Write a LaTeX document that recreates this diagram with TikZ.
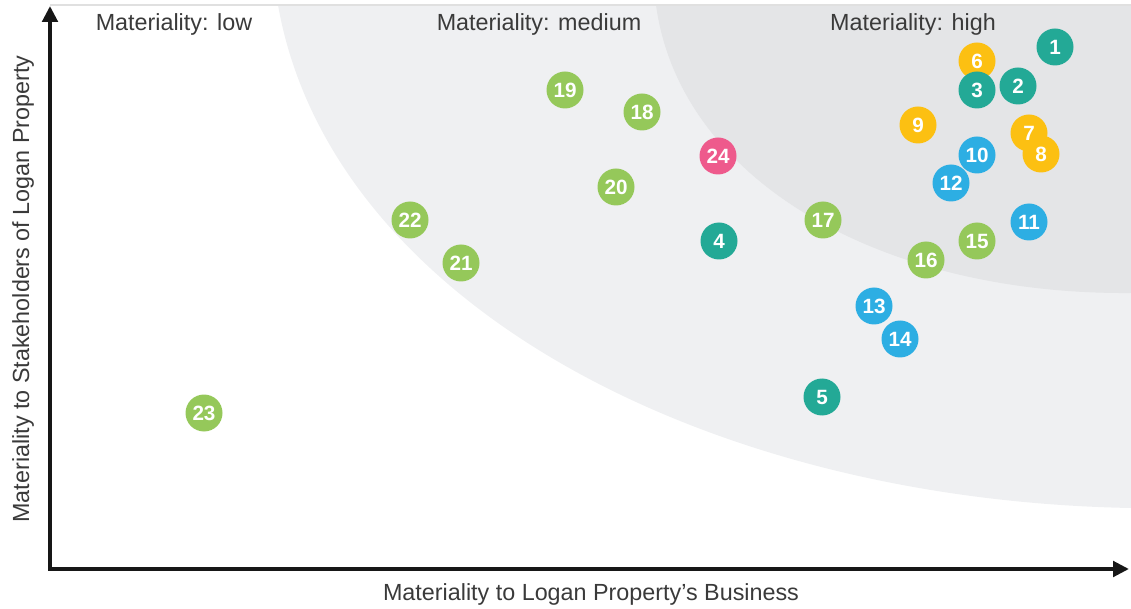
\documentclass[tikz,border=0pt]{standalone}
\usepackage{fontspec}
\setmainfont{Liberation Sans}
\usetikzlibrary{arrows.meta}
\definecolor{teal1}{HTML}{23A996}
\definecolor{gold1}{HTML}{FCC012}
\definecolor{sky1}{HTML}{2DAEE3}
\definecolor{lime1}{HTML}{95C85A}
\definecolor{pink1}{HTML}{EE5A8C}
\definecolor{zoneout}{HTML}{EFF0F2}
\definecolor{zonein}{HTML}{E4E5E7}
\definecolor{labelgray}{HTML}{3A3A3A}
\begin{document}
\begin{tikzpicture}[x=0.75pt,y=-0.75pt]
	\tikzset{issue/.style={circle, inner sep=0pt, minimum size=27.75pt, text=white, font=\bfseries\fontsize{15.5}{18}\selectfont}};
	\tikzset{zonelabel/.style={text=labelgray, font=\fontsize{17.5}{20}\selectfont}};
	\useasboundingbox (0,0) rectangle (1131,609);

	% materiality zones
	\fill[zoneout] (278,5) .. controls (330,300) and (700,500) .. (1131,508) -- (1131,5) -- cycle;
	\fill[zonein] (656,5) .. controls (680,180) and (880,295) .. (1131,293) -- (1131,5) -- cycle;
	\draw[black!12, line width=1.5] (50,5) -- (1131,5);

	% axes
	\coordinate (ytop) at (50,6);
	\coordinate (xend) at (1129,569);
	\draw[labelgray!40!black, line width=3pt, {Triangle[length=12pt,width=11.5pt]}-{Triangle[length=12pt,width=11.5pt]}] (ytop) |- (xend);

	\node[zonelabel] (low) at (174,24) {Materiality: low};
	\node[zonelabel] (medium) at (539,24) {Materiality: medium};
	\node[zonelabel] (high) at (913,24) {Materiality: high};
	\node[zonelabel] (xlabel) at (591,594) {Materiality to Logan Property’s Business};
	\node[zonelabel, rotate=90] (ylabel) at (23,289) {Materiality to Stakeholders of Logan Property};

	% issues
	\node[issue,fill=teal1] (i1) at (1055,47) {1};
	\node[issue,fill=gold1] (i6) at (977,61) {6};
	\node[issue,fill=teal1] (i2) at (1018,86) {2};
	\node[issue,fill=teal1] (i3) at (977,90) {3};
	\node[issue,fill=gold1] (i9) at (918,125) {9};
	\node[issue,fill=gold1] (i7) at (1029,133) {7};
	\node[issue,fill=gold1] (i8) at (1041,154) {8};
	\node[issue,fill=sky1] (i10) at (977,155) {10};
	\node[issue,fill=sky1] (i12) at (951,183) {12};
	\node[issue,fill=sky1] (i11) at (1029,222) {11};
	\node[issue,fill=lime1] (i15) at (977,241) {15};
	\node[issue,fill=lime1] (i16) at (926,260) {16};
	\node[issue,fill=lime1] (i17) at (823,220) {17};
	\node[issue,fill=sky1] (i13) at (874,306) {13};
	\node[issue,fill=sky1] (i14) at (900,339) {14};
	\node[issue,fill=teal1] (i5) at (822,397) {5};
	\node[issue,fill=teal1] (i4) at (719,241) {4};
	\node[issue,fill=pink1] (i24) at (718,156) {24};
	\node[issue,fill=lime1] (i20) at (616,187) {20};
	\node[issue,fill=lime1] (i18) at (642,112) {18};
	\node[issue,fill=lime1] (i19) at (565,90) {19};
	\node[issue,fill=lime1] (i22) at (410,220) {22};
	\node[issue,fill=lime1] (i21) at (461,263) {21};
	\node[issue,fill=lime1] (i23) at (204,413) {23};
\end{tikzpicture}
\end{document}
